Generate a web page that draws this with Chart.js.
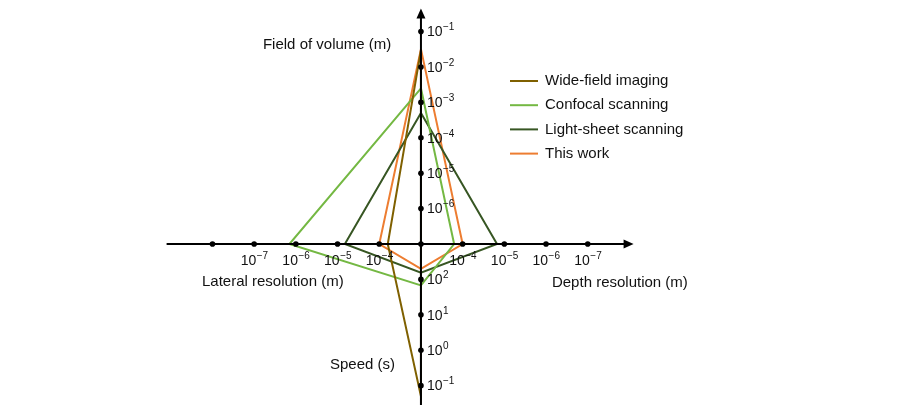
<!DOCTYPE html>
<html>
<head>
<meta charset="utf-8">
<script src="https://cdn.jsdelivr.net/npm/chart.js@4"></script>
<style>
  html, body { margin: 0; padding: 0; background: #fff; }
  #wrap { width: 900px; height: 406px; }
</style>
</head>
<body>
<div id="wrap"><canvas id="chart"></canvas></div>
<script>
const seriesNames = ['Wide-field imaging', 'Confocal scanning', 'Light-sheet scanning', 'This work'];
const seriesColors = ['#7f6000', '#74b843', '#375623', '#ed7d31'];

// values (metres, seconds)
const fieldOfVolume = [3.0e-2, 2.5e-3, 5.0e-4, 3.2e-2];
const lateralResolution = [1.6e-4, 7.0e-7, 1.5e-5, 1.0e-4];
const depthResolution = [1.0e-3, 1.6e-4, 1.5e-5, 1.0e-4];
const speed = [5.0e-2, 68, 155, 200];

// tick exponents on each arm
const volumeTicks = [-1, -2, -3, -4, -5, -6];
const lateralTicks = [-4, -5, -6, -7, -8];
const lateralLabels = [-4, -5, -6, -7];
const depthTicks = [-4, -5, -6, -7];
const speedTicks = [2, 1, 0, -1];

const FONT = '"Liberation Sans", Arial, sans-serif';

// each arm is a log axis; the origin of the figure sits at these exponents
const upY = (v) => Math.log10(v) + 7;
const downY = (v) => Math.log10(v) - 3;
const leftX = (v) => Math.log10(v) + 3;
const rightX = (v) => -3 - Math.log10(v);

const datasets = seriesNames.map((name, i) => {
  const pts = [
    { x: 0, y: upY(fieldOfVolume[i]) },
    { x: rightX(depthResolution[i]), y: 0 },
    { x: 0, y: downY(speed[i]) },
    { x: leftX(lateralResolution[i]), y: 0 },
  ];
  pts.push(pts[0]);
  return {
    label: name,
    data: pts,
    showLine: true,
    borderColor: seriesColors[i],
    backgroundColor: seriesColors[i],
    borderWidth: 2,
    pointRadius: 0,
    tension: 0,
    fill: false,
  };
});

function drawPow(ctx, exp, x, y, align) {
  const sup = exp < 0 ? '\u2212' + -exp : String(exp);
  ctx.font = '14px ' + FONT;
  const wb = ctx.measureText('10').width;
  ctx.font = '10px ' + FONT;
  const ws = ctx.measureText(sup).width;
  const x0 = align === 'center' ? x - (wb + ws) / 2 : x;
  ctx.textAlign = 'left';
  ctx.textBaseline = 'middle';
  ctx.font = '14px ' + FONT;
  ctx.fillText('10', x0, y);
  ctx.font = '10px ' + FONT;
  ctx.fillText(sup, x0 + wb + 0.5, y - 5);
}

const axesPlugin = {
  id: 'axes',
  afterDatasetsDraw(chart) {
    const { ctx, chartArea: a, scales: { x, y } } = chart;
    const cx = x.getPixelForValue(0);
    const cy = y.getPixelForValue(0);
    ctx.save();
    ctx.strokeStyle = '#000';
    ctx.fillStyle = '#000';
    ctx.lineWidth = 2;
    ctx.beginPath();
    ctx.moveTo(a.left, cy);
    ctx.lineTo(a.right - 6, cy);
    ctx.moveTo(cx, a.bottom);
    ctx.lineTo(cx, a.top + 6);
    ctx.stroke();

    // arrow heads
    ctx.beginPath();
    ctx.moveTo(a.right, cy);
    ctx.lineTo(a.right - 10, cy - 4.5);
    ctx.lineTo(a.right - 10, cy + 4.5);
    ctx.closePath();
    ctx.moveTo(cx, a.top);
    ctx.lineTo(cx - 4.5, a.top + 10);
    ctx.lineTo(cx + 4.5, a.top + 10);
    ctx.closePath();
    ctx.fill();

    const dot = (px, py) => {
      ctx.beginPath();
      ctx.arc(px, py, 2.8, 0, Math.PI * 2);
      ctx.fill();
    };
    dot(cx, cy);
    volumeTicks.forEach((e) => dot(cx, y.getPixelForValue(upY(10 ** e))));
    speedTicks.forEach((e) => dot(cx, y.getPixelForValue(downY(10 ** e))));
    lateralTicks.forEach((e) => dot(x.getPixelForValue(leftX(10 ** e)), cy));
    depthTicks.forEach((e) => dot(x.getPixelForValue(rightX(10 ** e)), cy));

    ctx.fillStyle = '#111';
    volumeTicks.forEach((e) => drawPow(ctx, e, cx + 6, y.getPixelForValue(upY(10 ** e)) + 1, 'left'));
    speedTicks.forEach((e) => drawPow(ctx, e, cx + 6, y.getPixelForValue(downY(10 ** e)) + 1, 'left'));
    lateralLabels.forEach((e) => drawPow(ctx, e, x.getPixelForValue(leftX(10 ** e)), cy + 17, 'center'));
    depthTicks.forEach((e) => drawPow(ctx, e, x.getPixelForValue(rightX(10 ** e)), cy + 17, 'center'));

    // arm titles
    ctx.font = '15px ' + FONT;
    ctx.textAlign = 'left';
    ctx.textBaseline = 'middle';
    ctx.fillText('Field of volume (m)', cx - 158, 45);
    ctx.fillText('Lateral resolution (m)', cx - 219, cy + 38);
    ctx.fillText('Depth resolution (m)', cx + 131, cy + 39);
    ctx.fillText('Speed (s)', cx - 91, cy + 121);

    // legend
    chart.data.datasets.forEach((ds, i) => {
      const ly = 81 + i * 24.2;
      ctx.strokeStyle = ds.borderColor;
      ctx.lineWidth = 2;
      ctx.beginPath();
      ctx.moveTo(510, ly);
      ctx.lineTo(538, ly);
      ctx.stroke();
      ctx.fillStyle = '#111';
      ctx.fillText(ds.label, 545, ly);
    });
    ctx.restore();
  },
};

new Chart(document.getElementById('chart'), {
  type: 'scatter',
  data: { datasets },
  options: {
    responsive: true,
    maintainAspectRatio: false,
    animation: false,
    events: [],
    layout: { padding: { left: 166.6, right: 266.4, top: 8.6, bottom: 0.9 } },
    scales: {
      x: { type: 'linear', min: -6.1, max: 5.1, display: false },
      y: { type: 'linear', min: -4.55, max: 6.65, display: false },
    },
    plugins: {
      legend: { display: false },
      tooltip: { enabled: false },
    },
  },
  plugins: [axesPlugin],
});
</script>
</body>
</html>
